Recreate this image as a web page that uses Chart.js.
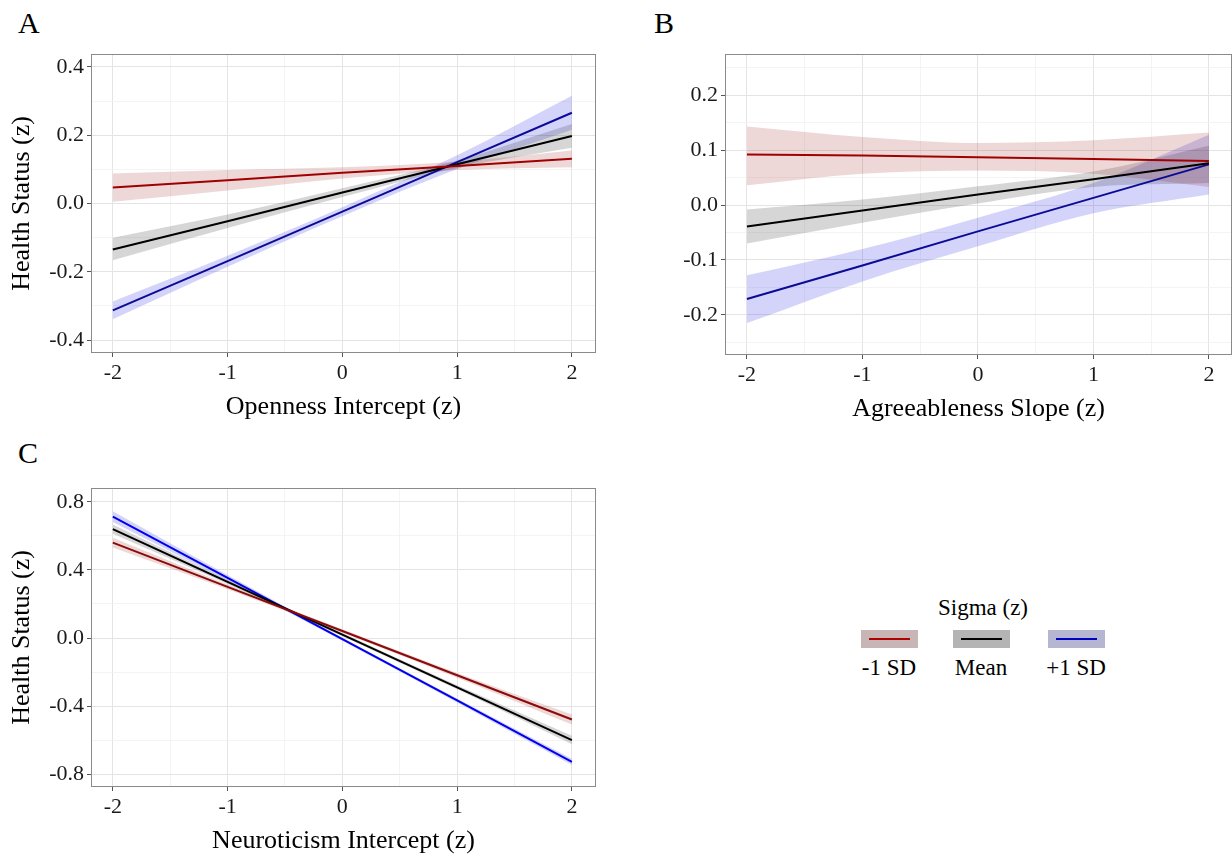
<!DOCTYPE html>
<html>
<head>
<meta charset="utf-8">
<script src="https://cdn.jsdelivr.net/npm/chart.js@4.4.1/dist/chart.umd.min.js"></script>
<style>
  html, body { margin: 0; padding: 0; background: #fff; }
  body { width: 1232px; height: 858px; position: relative; overflow: hidden;
         font-family: "Liberation Serif", "Times New Roman", serif; color: #000; }
  canvas { position: absolute; }
  .tag { position: absolute; font-size: 30px; line-height: 30px; }
  .legend-title, .legend-label { position: absolute; font-size: 23px; line-height: 26px; text-align: center; width: 120px; }
  .key { position: absolute; width: 57px; height: 18px; }
  .key i { position: absolute; left: 8px; right: 8px; top: 8px; height: 2px; }
</style>
</head>
<body>
<div class="tag" style="left:18px;top:8px">A</div>
<div class="tag" style="left:654px;top:8px">B</div>
<div class="tag" style="left:18px;top:438px">C</div>

<canvas id="chartA" width="620" height="384" style="left:0;top:40px"></canvas>
<canvas id="chartB" width="612" height="386" style="left:620px;top:40px"></canvas>
<canvas id="chartC" width="620" height="388" style="left:0;top:470px"></canvas>

<div id="legend"></div>

<script>
// x positions of the fitted lines
const xs = [-2, -1, 0, 1, 2];
const seriesNames = ['-1 SD', 'Mean', '+1 SD'];
const legendTitle = 'Sigma (z)';

// Panel A: Openness Intercept
const aLineLow = [0.047, 0.068, 0.090, 0.110, 0.131];
const aBandLowMin = [0.005, 0.038, 0.073, 0.098, 0.106];
const aBandLowMax = [0.088, 0.098, 0.106, 0.122, 0.155];
const aLineMean = [-0.135, -0.052, 0.032, 0.115, 0.198];
const aBandMeanMin = [-0.166, -0.072, 0.019, 0.104, 0.163];
const aBandMeanMax = [-0.100, -0.032, 0.045, 0.126, 0.233];
const aLineHigh = [-0.313, -0.169, -0.024, 0.121, 0.266];
const aBandHighMin = [-0.339, -0.185, -0.037, 0.101, 0.216];
const aBandHighMax = [-0.287, -0.153, -0.011, 0.141, 0.316];

// Panel B: Agreeableness Slope
const bLineLow = [0.092, 0.090, 0.087, 0.084, 0.080];
const bBandLowMin = [0.036, 0.057, 0.063, 0.057, 0.033];
const bBandLowMax = [0.143, 0.124, 0.113, 0.118, 0.132];
const bLineMean = [-0.039, -0.010, 0.019, 0.047, 0.076];
const bBandMeanMin = [-0.070, -0.032, 0.003, 0.033, 0.040];
const bBandMeanMax = [-0.008, 0.010, 0.034, 0.061, 0.108];
const bLineHigh = [-0.171, -0.110, -0.048, 0.013, 0.074];
const bBandHighMin = [-0.215, -0.139, -0.075, -0.015, 0.019];
const bBandHighMax = [-0.128, -0.080, -0.023, 0.040, 0.128];

// Panel C: Neuroticism Intercept
const cLineLow = [0.561, 0.301, 0.041, -0.219, -0.479];
const cBandLowMin = [0.532, 0.287, 0.031, -0.233, -0.509];
const cBandLowMax = [0.590, 0.315, 0.051, -0.205, -0.449];
const cLineMean = [0.640, 0.330, 0.020, -0.290, -0.600];
const cBandMeanMin = [0.613, 0.317, 0.011, -0.302, -0.625];
const cBandMeanMax = [0.667, 0.343, 0.029, -0.278, -0.575];
const cLineHigh = [0.714, 0.354, -0.007, -0.367, -0.728];
const cBandHighMin = [0.682, 0.338, -0.016, -0.379, -0.746];
const cBandHighMax = [0.746, 0.370, 0.002, -0.355, -0.710];

// tick marks
const xMajor = [-2, -1, 0, 1, 2];
const xMinor = [-1.5, -0.5, 0.5, 1.5];
const aYMajor = [-0.4, -0.2, 0, 0.2, 0.4];
const aYMinor = [-0.3, -0.1, 0.1, 0.3];
const bYMajor = [-0.2, -0.1, 0, 0.1, 0.2];
const bYMinor = [-0.25, -0.15, -0.05, 0.05, 0.15, 0.25];
const cYMajor = [-0.8, -0.4, 0, 0.4, 0.8];
const cYMinor = [-0.6, -0.2, 0.2, 0.6];

const bandColors = ['rgba(150,20,20,0.17)', 'rgba(0,0,0,0.16)', 'rgba(40,40,230,0.2)'];
const keyColors = ['#c8b6b6', '#b4b4b4', '#b6b6d2'];
const keyLines = ['#b00000', '#000000', '#0000c0'];

Chart.defaults.font.family = '"Liberation Serif", "Times New Roman", serif';
Chart.defaults.color = '#1a1a1a';

const panelBorder = {
  id: 'panelBorder',
  afterDatasetsDraw(chart) {
    const { ctx, chartArea: a } = chart;
    ctx.save();
    ctx.strokeStyle = '#8a8a8a';
    ctx.lineWidth = 1;
    ctx.strokeRect(a.left + 0.5, a.top + 0.5, a.width - 1, a.height - 1);
    ctx.restore();
  }
};

function makeTicks(major, minor) {
  return major.map(v => ({ value: v, main: true }))
    .concat(minor.map(v => ({ value: v, main: false })))
    .sort((p, q) => p.value - q.value);
}

function pts(ys) {
  return xs.map((x, i) => ({ x, y: ys[i] }));
}

function axis(opts) {
  const horizontal = opts.horizontal;
  return {
    type: 'linear',
    min: opts.min,
    max: opts.max,
    afterBuildTicks: s => { s.ticks = makeTicks(opts.major, opts.minor); },
    afterFit: s => {
      if (horizontal) { s.height = 71; s.paddingLeft = 0; s.paddingRight = 0; }
      else { s.width = opts.width; s.paddingTop = 0; s.paddingBottom = 0; }
    },
    grid: {
      color: c => c.tick && c.tick.main ? '#e4e4e4' : '#f1f1f1',
      lineWidth: c => c.tick && c.tick.main ? 1 : 0.8,
      tickColor: c => c.tick && c.tick.main ? '#555' : 'rgba(0,0,0,0)',
      tickLength: 4,
      drawTicks: true
    },
    border: { display: false },
    ticks: {
      autoSkip: false,
      maxRotation: 0,
      padding: 3,
      font: { size: 22 },
      callback: (v, i, ticks) => ticks[i].main ? (horizontal ? String(v) : v.toFixed(1)) : ''
    },
    title: {
      display: !!opts.title,
      text: opts.title || '',
      color: '#000',
      font: { size: 26 },
      padding: horizontal ? { top: 0, bottom: 1 } : { top: 7, bottom: 0 }
    }
  };
}

function buildPanel(id, p) {
  const datasets = [];
  p.bands.forEach((b, i) => {
    datasets.push({ data: pts(b[0]), borderWidth: 0, pointRadius: 0, fill: false,
      backgroundColor: bandColors[i], order: 2, cubicInterpolationMode: 'monotone' });
    datasets.push({ data: pts(b[1]), borderWidth: 0, pointRadius: 0, fill: '-1',
      backgroundColor: bandColors[i], order: 2, cubicInterpolationMode: 'monotone' });
  });
  p.lines.forEach((l, i) => {
    datasets.push({ label: seriesNames[i], data: pts(l), borderColor: p.colors[i],
      borderWidth: 2, pointRadius: 0, fill: false, order: 1 });
  });
  return new Chart(document.getElementById(id), {
    type: 'line',
    data: { datasets },
    plugins: [panelBorder],
    options: {
      responsive: false,
      animation: false,
      devicePixelRatio: 1,
      layout: { padding: p.padding },
      plugins: { legend: { display: false }, tooltip: { enabled: false } },
      scales: {
        x: axis({ horizontal: true, min: p.xMin, max: p.xMax, major: xMajor, minor: xMinor, title: p.xTitle }),
        y: axis({ horizontal: false, min: p.yMin, max: p.yMax, major: p.yMajor, minor: p.yMinor, title: p.yTitle, width: p.yWidth })
      }
    }
  });
}

buildPanel('chartA', {
  lines: [aLineLow, aLineMean, aLineHigh],
  bands: [[aBandLowMin, aBandLowMax], [aBandMeanMin, aBandMeanMax], [aBandHighMin, aBandHighMax]],
  colors: ['#a00000', '#000000', '#0b0b96'],
  xMin: -2.19, xMax: 2.21, yMin: -0.438, yMax: 0.438,
  yMajor: aYMajor, yMinor: aYMinor,
  xTitle: 'Openness Intercept (z)', yTitle: 'Health Status (z)', yWidth: 91,
  padding: { top: 14, right: 24, bottom: 0, left: 0 }
});

buildPanel('chartB', {
  lines: [bLineLow, bLineMean, bLineHigh],
  bands: [[bBandLowMin, bBandLowMax], [bBandMeanMin, bBandMeanMax], [bBandHighMin, bBandHighMax]],
  colors: ['#a00000', '#000000', '#0b0b96'],
  xMin: -2.19, xMax: 2.2, yMin: -0.273, yMax: 0.275,
  yMajor: bYMajor, yMinor: bYMinor,
  xTitle: 'Agreeableness Slope (z)', yTitle: '', yWidth: 105,
  padding: { top: 14, right: 0, bottom: 0, left: 0 }
});

buildPanel('chartC', {
  lines: [cLineLow, cLineMean, cLineHigh],
  bands: [[cBandLowMin, cBandLowMax], [cBandMeanMin, cBandMeanMax], [cBandHighMin, cBandHighMax]],
  colors: ['#8b0a0a', '#000000', '#0000ee'],
  xMin: -2.19, xMax: 2.21, yMin: -0.876, yMax: 0.882,
  yMajor: cYMajor, yMinor: cYMinor,
  xTitle: 'Neuroticism Intercept (z)', yTitle: 'Health Status (z)', yWidth: 91,
  padding: { top: 18, right: 24, bottom: 0, left: 0 }
});

// shared legend
const legend = document.getElementById('legend');
const keyCenters = [889, 981, 1076];
legend.innerHTML = `<div class="legend-title" style="left:${983 - 60}px;top:595px">${legendTitle}</div>` +
  seriesNames.map((name, i) =>
    `<div class="key" style="left:${keyCenters[i] - 28}px;top:630px;background:${keyColors[i]}"><i style="background:${keyLines[i]}"></i></div>` +
    `<div class="legend-label" style="left:${keyCenters[i] - 60}px;top:655px">${name}</div>`
  ).join('');
</script>
</body>
</html>
